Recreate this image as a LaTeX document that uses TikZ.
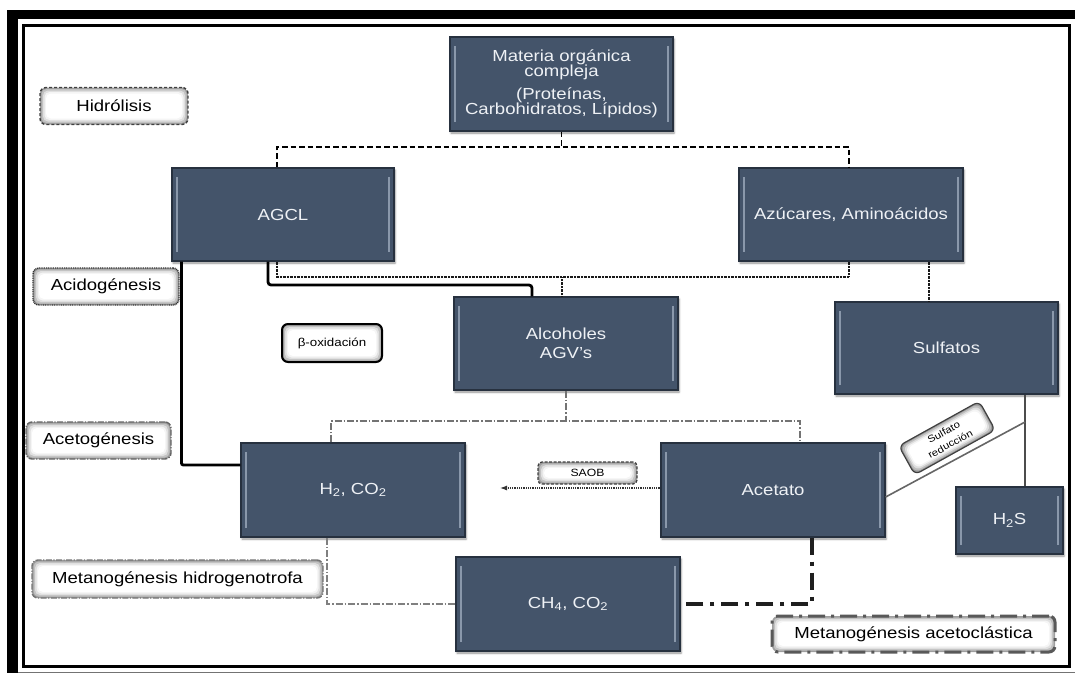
\documentclass[tikz,border=0pt]{standalone}
\usepackage{fontspec}
\setmainfont{Liberation Sans}[FakeStretch=1.16]
\usetikzlibrary{arrows.meta,shadows.blur,calc}

\definecolor{slate}{HTML}{44546A}
\definecolor{slateedge}{HTML}{27313F}
\definecolor{slatehl}{HTML}{8A98AB}
\definecolor{boxtext}{HTML}{EEF1F5}

\begin{document}
\begin{tikzpicture}[x=1pt,y=-1pt,
  stage/.style={draw=slateedge, line width=1.2pt, fill=slate, text=boxtext,
    align=center, inner sep=0pt, font=\fontsize{16}{15.5}\selectfont,
    blur shadow={shadow xshift=1pt, shadow yshift=-2pt, shadow blur steps=4, shadow opacity=45},
    path picture={
      \draw[slatehl, line width=2.2pt]
        ([shift={(5pt,-9pt)}]path picture bounding box.north west) --
        ([shift={(5pt,9pt)}]path picture bounding box.south west);
      \draw[slatehl, line width=2.2pt]
        ([shift={(-5pt,-9pt)}]path picture bounding box.north east) --
        ([shift={(-5pt,9pt)}]path picture bounding box.south east);
    }},
  phase/.style={rounded corners=6pt, fill=white, align=center, inner sep=0pt,
    font=\fontsize{16}{16}\selectfont,
    path picture={
      \foreach \inset/\tone in {0/38,1.5/24,3/12,4.5/4,6/0}{
        \fill[black!\tone, rounded corners=5pt]
          ([shift={(\inset pt,-\inset pt)}]path picture bounding box.north west) rectangle
          ([shift={(-\inset pt,\inset pt)}]path picture bounding box.south east);}
    }},
  dashlink/.style={black, line width=1.5pt, dash pattern=on 5.5pt off 3pt},
  dotlink/.style={black!90, line width=2pt, dash pattern=on 0.8pt off 0.6pt},
  solidlink/.style={black, line width=2.8pt, rounded corners=3pt},
  ddlink/.style={black!55, line width=1.4pt, dash pattern=on 7pt off 2pt on 1.5pt off 2pt},
  saoblink/.style={black!80, line width=1.1pt, dash pattern=on 1pt off 0.8pt},
  bigdd/.style={black!88, line width=3.6pt, dash pattern=on 17pt off 7pt on 4pt off 7pt},
  thinlink/.style={black!70, line width=1.3pt},
]
\useasboundingbox (0,0) rectangle (1075,673);

% page frame
\fill[black] (7,9.5) rectangle (1075,19);
\fill[black] (7,9.5) rectangle (18,673);
\draw[black, line width=3.2pt] (23.5,25.5) rectangle (1069.5,666.5);
\draw[black!55, line width=0.6pt] (18,672) -- (1075,672);

% process boxes
\node[stage, minimum width=223pt, minimum height=94pt] (mat) at (561.5,84)
  {Materia orgánica\\compleja\\[7pt](Proteínas,\\Carbohidratos, Lípidos)};
\node[stage, minimum width=222pt, minimum height=93pt] (agcl) at (283,214.5) {AGCL};
\node[stage, minimum width=224pt, minimum height=93pt] (azu) at (851,214.5) {Azúcares, Aminoácidos};
\node[stage, minimum width=224pt, minimum height=93pt] (alc) at (566,343.5) {Alcoholes\\[3pt]AGV's};
\node[stage, minimum width=223pt, minimum height=92pt] (sulf) at (946.5,348) {Sulfatos};
\node[stage, minimum width=224pt, minimum height=94pt] (h2) at (353,490) {H\textsubscript{2}, CO\textsubscript{2}};
\node[stage, minimum width=224pt, minimum height=94pt] (acet) at (773,490) {Acetato};
\node[stage, minimum width=224pt, minimum height=94pt] (ch4) at (568,604) {CH\textsubscript{4}, CO\textsubscript{2}};
\node[stage, minimum width=107pt, minimum height=67pt] (h2s) at (1009.5,520.5) {H\textsubscript{2}S};

% phase labels
\node[phase, draw=black!75, line width=1.4pt, dash pattern=on 3pt off 2pt,
  minimum width=148pt, minimum height=37pt] (hid) at (114,106) {Hidrólisis};
\node[phase, draw=black!80, line width=1.4pt, dash pattern=on 1pt off 0.8pt,
  minimum width=146pt, minimum height=37pt] (acid) at (106,286.5) {Acidogénesis};
\node[phase, draw=black, line width=2pt, font=\fontsize{11.5}{12}\selectfont,
  minimum width=100pt, minimum height=38pt] (beta) at (332,343) {β-oxidación};
\node[phase, draw=black!60, line width=1.4pt, dash pattern=on 6pt off 1.5pt on 1.2pt off 1.5pt,
  minimum width=145pt, minimum height=37pt] (acet-l) at (98.5,440.5) {Acetogénesis};
\node[phase, draw=black!55, line width=1.4pt, dash pattern=on 6pt off 1.5pt on 1.2pt off 1.5pt,
  minimum width=291pt, minimum height=38pt] (hidro) at (177.5,579) {Metanogénesis hidrogenotrofa};
\node[phase, draw=black!75, line width=1.3pt, dash pattern=on 3pt off 1.5pt, rounded corners=4pt,
  font=\fontsize{10.5}{11}\selectfont,
  minimum width=99pt, minimum height=22pt] (saob) at (587.5,473) {SAOB};
\node[phase, draw=black!65, line width=3pt, dash pattern=on 17pt off 6pt on 3pt off 6pt,
  minimum width=283pt, minimum height=36pt] (acetoc) at (913.5,634) {Metanogénesis acetoclástica};

% tilted sulfate-reduction tag: soft grey rim built from nested fills
\foreach \inset/\tone in {0/40,1.5/26,3/13,4.5/4,6/0}{
  \fill[black!\tone, rounded corners=6pt, rotate around={29:(947,438)}]
    ({947-46+\inset},{438-16.5+\inset}) rectangle ({947+46-\inset},{438+16.5-\inset});}
\node[draw=black!75, line width=1.2pt, rounded corners=6pt, rotate=29, align=center,
  inner sep=0pt, font=\fontsize{9.8}{13.5}\selectfont,
  minimum width=92pt, minimum height=33pt] (sred) at (947,438) {Sulfato\\reducción};

% junction points
\coordinate (hj) at (0,147);
\coordinate (hk) at (0,277);
\coordinate (hs) at (0,285);
\coordinate (hm) at (0,421);
\coordinate (sx) at (929,0);
\coordinate (vx) at (1025,0);
\coordinate (dj) at (1025,422);
\coordinate (sa) at (500,488);
\coordinate (a1) at ([xshift=-22pt]h2.north);
\coordinate (a2) at ([xshift=27pt]acet.north);
\coordinate (b1) at ([xshift=-6pt]agcl.south);
\coordinate (b2) at ([xshift=-2pt]azu.south);
\coordinate (b3) at ([xshift=-4pt]alc.north);
\coordinate (c1) at ([xshift=-15pt]agcl.south);
\coordinate (c2) at ([xshift=-34pt]alc.north);

% hydrolysis
\draw[dashlink] (mat.south) -- (mat.south |- hj);
\draw[dashlink] ([xshift=-6pt]agcl.north) |- ([xshift=-2pt]azu.north |- hj) -- ([xshift=-2pt]azu.north);

% acidogenesis
\draw[dotlink] (b1) |- (b2 |- hk) -- (b2);
\draw[dotlink] (b3) -- (b3 |- hk);
\draw[dotlink] (azu.south -| sx) -- (sulf.north -| sx);
\draw[solidlink] (c1) |- (c2 |- hs) -- (c2);
\draw[solidlink, rounded corners=2pt] ([xshift=10pt]agcl.south west) |- ([yshift=25pt]h2.west);

% acetogenesis
\draw[ddlink] (alc.south) -- (alc.south |- hm);
\draw[ddlink] (a1) |- (a2 |- hm) -- (a2);
\draw[saoblink, -{Latex[length=7pt,width=5pt]}] ([yshift=2pt]acet.west) -- (sa);

% methanogenesis
\draw[ddlink, black!50] ([xshift=-26pt]h2.south) |- (ch4.west);
\draw[bigdd] ([xshift=39pt]acet.south) |- (ch4.east);

% sulfate reduction
\draw[thinlink] (sulf.south -| vx) -- (h2s.north -| vx);
\draw[thinlink, black!60, line width=1.6pt] ([yshift=-7pt]acet.east) -- (dj);
\end{tikzpicture}
\end{document}
